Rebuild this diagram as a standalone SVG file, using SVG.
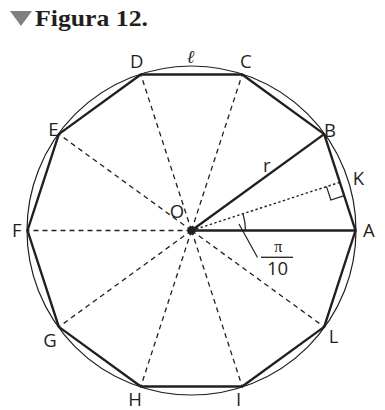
<svg xmlns="http://www.w3.org/2000/svg" width="385" height="410" viewBox="0 0 385 410">
<style>
.lbl{font-family:"Open Sans","Liberation Sans",sans-serif;font-size:18.5px;fill:#231f20;text-anchor:middle}
.dash{stroke:#231f20;stroke-width:1.3;stroke-dasharray:5 4;fill:none}
.dot{stroke:#231f20;stroke-width:1.4;stroke-dasharray:2.4 2.4;fill:none}
.thick{stroke:#231f20;stroke-width:2.4;fill:none;stroke-linejoin:round}
.thin{stroke:#231f20;stroke-width:1.2;fill:none}
</style>
<rect width="385" height="410" fill="#ffffff"/>
<g id="title">
<polygon points="10,11 32,11 21,26" fill="#808080"/>
<text x="35" y="26" font-family="'Liberation Serif','DejaVu Serif',serif" font-weight="bold" font-size="24" fill="#231f20" textLength="113" lengthAdjust="spacingAndGlyphs">Figura 12.</text>
</g>
<g id="circle"><circle class="thin" cx="191.5" cy="230.5" r="164.5"/></g>
<g id="connectors">
<line class="dash" x1="191.5" y1="230.5" x2="242.18" y2="74.53"/>
<line class="dash" x1="191.5" y1="230.5" x2="140.82" y2="74.53"/>
<line class="dash" x1="191.5" y1="230.5" x2="58.82" y2="134.10"/>
<line class="dash" x1="191.5" y1="230.5" x2="27.5" y2="230.5"/>
<line class="dash" x1="191.5" y1="230.5" x2="58.82" y2="326.90"/>
<line class="dash" x1="191.5" y1="230.5" x2="140.82" y2="386.47"/>
<line class="dash" x1="191.5" y1="230.5" x2="242.18" y2="386.47"/>
<line class="dash" x1="191.5" y1="230.5" x2="324.18" y2="326.90"/>
<line class="dot" x1="191.5" y1="230.5" x2="339.84" y2="182.30"/>
<line class="thick" x1="191.5" y1="230.5" x2="355.5" y2="230.5"/>
<line class="thick" x1="191.5" y1="230.5" x2="324.18" y2="134.10"/>
<polyline class="thin" points="326.53,186.63 330.86,199.95 344.17,195.62"/>
<path class="thin" d="M245.5,230.5 A54,54 0 0 0 242.86,213.81"/>
<line class="thin" x1="239" y1="224" x2="257.5" y2="257.5"/>
</g>
<g id="decagon">
<polygon class="thick" points="355.5,230.5 324.18,134.10 242.18,74.53 140.82,74.53 58.82,134.10 27.5,230.5 58.82,326.90 140.82,386.47 242.18,386.47 324.18,326.90"/>
</g>
<g id="O"><circle cx="191.5" cy="230.5" r="4.2" fill="#231f20"/><text class="lbl" x="177" y="218.3">O</text></g>
<g id="A"><text class="lbl" x="368.8" y="236.7">A</text></g>
<g id="B"><text class="lbl" x="330" y="136.7">B</text></g>
<g id="C"><text class="lbl" x="245.8" y="68.3">C</text></g>
<g id="D"><text class="lbl" x="136.7" y="68.3">D</text></g>
<g id="E"><text class="lbl" x="53.3" y="136">E</text></g>
<g id="F"><text class="lbl" x="16.7" y="236.7">F</text></g>
<g id="G"><text class="lbl" x="50" y="346.7">G</text></g>
<g id="H"><text class="lbl" x="135" y="405.5">H</text></g>
<g id="I"><text class="lbl" x="238.5" y="405.5">I</text></g>
<g id="L"><text class="lbl" x="333.5" y="343">L</text></g>
<g id="K"><text class="lbl" x="358.3" y="185">K</text></g>
<g id="r"><text class="lbl" x="266.7" y="171.7">r</text></g>
<g id="ell"><text x="190.5" y="63.3" font-family="'Liberation Serif','DejaVu Serif',serif" font-style="italic" font-size="18" fill="#231f20" text-anchor="middle">ℓ</text></g>
<g id="angle-label">
<text x="278.3" y="252" font-family="'Liberation Serif','DejaVu Serif',serif" font-size="16" fill="#231f20" text-anchor="middle">π</text>
<line x1="261" y1="257.3" x2="293" y2="257.3" stroke="#231f20" stroke-width="1.3"/>
<text class="lbl" x="277.5" y="274.5">10</text>
</g>
</svg>
